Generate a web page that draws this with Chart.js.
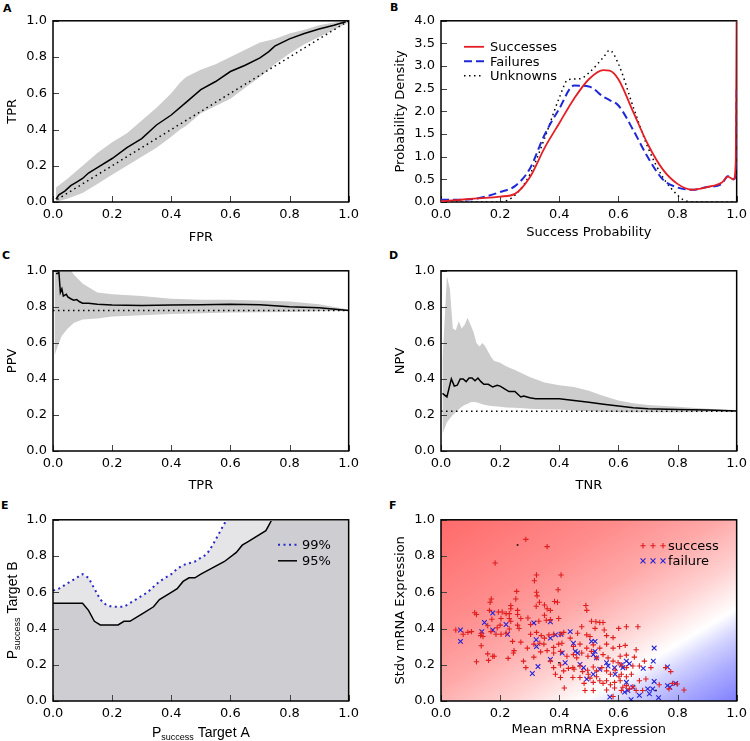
<!DOCTYPE html>
<html>
<head>
<meta charset="utf-8">
<script src="https://cdn.jsdelivr.net/npm/chart.js@4.4.0/dist/chart.umd.min.js"></script>
<style>
body { margin: 0; background: #fff; width: 750px; height: 741px; position: relative; overflow: hidden; font-family: 'DejaVu Sans', sans-serif; }
canvas { position: absolute; }
.lab { position: absolute; font-weight: bold; font-size: 11px; line-height: 11px; }
</style>
</head>
<body>
<div class="lab" style="left:3px;top:3px">A</div>
<div class="lab" style="left:390px;top:2px">B</div>
<div class="lab" style="left:2px;top:250px">C</div>
<div class="lab" style="left:389px;top:250px">D</div>
<div class="lab" style="left:1px;top:500px">E</div>
<div class="lab" style="left:389px;top:500px">F</div>
<canvas id="cA"></canvas>
<canvas id="cB"></canvas>
<canvas id="cC"></canvas>
<canvas id="cD"></canvas>
<canvas id="cE"></canvas>
<canvas id="cF"></canvas>
<script>
// ---------- A: ROC ----------
const rocX    = [0.01, 0.02, 0.04, 0.06, 0.08, 0.1, 0.12, 0.15, 0.2, 0.25, 0.3, 0.35, 0.4, 0.45, 0.5, 0.55, 0.6, 0.65, 0.7, 0.73, 0.75, 0.8, 0.85, 0.9, 0.95, 0.99];
const rocMean = [0.015, 0.04, 0.06, 0.09, 0.11, 0.13, 0.16, 0.19, 0.24, 0.3, 0.35, 0.425, 0.48, 0.55, 0.62, 0.665, 0.72, 0.755, 0.795, 0.83, 0.86, 0.9, 0.93, 0.955, 0.975, 0.995];
const rocBandX = [0.01, 0.05, 0.1, 0.15, 0.2, 0.25, 0.3, 0.35, 0.4, 0.43, 0.45, 0.5, 0.55, 0.6, 0.65, 0.7, 0.75, 0.8, 0.85, 0.9, 0.95, 1.0];
const rocHi   = [0.08, 0.13, 0.2, 0.27, 0.33, 0.38, 0.45, 0.52, 0.6, 0.66, 0.69, 0.73, 0.76, 0.8, 0.84, 0.88, 0.9, 0.93, 0.95, 0.975, 0.99, 1.0];
const rocLo   = [0.0, 0.02, 0.05, 0.1, 0.15, 0.2, 0.25, 0.3, 0.36, 0.4, 0.42, 0.49, 0.53, 0.57, 0.63, 0.69, 0.76, 0.82, 0.87, 0.91, 0.95, 0.99];
const chanceLine = [[0, 0], [1, 1]];

// ---------- B: densities ----------
const densX    = [0.0, 0.05, 0.1, 0.15, 0.2, 0.25, 0.3, 0.35, 0.4, 0.45, 0.5, 0.55, 0.57, 0.6, 0.65, 0.7, 0.75, 0.8, 0.85, 0.9, 0.95, 0.97, 0.99, 0.997, 1.0];
const successD = [0.02, 0.04, 0.07, 0.09, 0.12, 0.18, 0.54, 1.19, 1.74, 2.28, 2.71, 2.91, 2.9, 2.71, 1.99, 1.27, 0.72, 0.4, 0.27, 0.33, 0.43, 0.56, 0.5, 0.9, 4.0];
const failureD = [0.05, 0.05, 0.06, 0.12, 0.22, 0.35, 0.73, 1.48, 2.06, 2.57, 2.55, 2.32, 2.25, 2.13, 1.59, 0.98, 0.5, 0.32, 0.27, 0.33, 0.4, 0.57, 0.5, 0.6, 2.5];
const unknownX = [0.0, 0.2, 0.25, 0.3, 0.35, 0.4, 0.43, 0.47, 0.5, 0.55, 0.57, 0.6, 0.65, 0.7, 0.75, 0.8, 0.82, 0.85, 1.0];
const unknownD = [0.0, 0.0, 0.15, 0.6, 1.4, 2.3, 2.7, 2.72, 2.85, 3.2, 3.35, 3.05, 2.1, 1.2, 0.55, 0.15, 0.05, 0.0, 0.0];

// ---------- C: PPV vs TPR ----------
const ppvX    = [0.01, 0.015, 0.02, 0.025, 0.03, 0.035, 0.04, 0.045, 0.05, 0.06, 0.07, 0.08, 0.09, 0.1, 0.12, 0.15, 0.2, 0.3, 0.4, 0.5, 0.6, 0.7, 0.8, 0.9, 1.0];
const ppvMean = [0.985, 0.985, 0.99, 0.88, 0.9, 0.86, 0.865, 0.87, 0.855, 0.845, 0.837, 0.84, 0.828, 0.82, 0.82, 0.815, 0.81, 0.808, 0.81, 0.812, 0.815, 0.812, 0.8, 0.795, 0.78];
const ppvBandX = [0.005, 0.02, 0.03, 0.05, 0.07, 0.1, 0.15, 0.2, 0.3, 0.4, 0.5, 0.6, 0.7, 0.8, 0.9, 1.0];
const ppvHi   = [1.2, 1.15, 1.1, 1.03, 0.98, 0.93, 0.88, 0.87, 0.86, 0.845, 0.84, 0.84, 0.835, 0.83, 0.815, 0.785];
const ppvLo   = [0.53, 0.6, 0.64, 0.68, 0.71, 0.73, 0.735, 0.746, 0.754, 0.76, 0.765, 0.768, 0.77, 0.772, 0.775, 0.777];
const ppvBase = [[0, 0.78], [1, 0.78]];

// ---------- D: NPV vs TNR ----------
const npvX    = [0.005, 0.02, 0.035, 0.045, 0.055, 0.065, 0.075, 0.085, 0.095, 0.105, 0.115, 0.125, 0.135, 0.145, 0.16, 0.175, 0.19, 0.2, 0.215, 0.23, 0.25, 0.27, 0.28, 0.3, 0.32, 0.35, 0.4, 0.45, 0.5, 0.55, 0.6, 0.65, 0.7, 0.8, 0.9, 1.0];
const npvMean = [0.32, 0.3, 0.4, 0.36, 0.365, 0.4, 0.4, 0.385, 0.405, 0.405, 0.39, 0.405, 0.385, 0.37, 0.37, 0.355, 0.365, 0.36, 0.345, 0.33, 0.33, 0.3, 0.305, 0.295, 0.29, 0.29, 0.29, 0.28, 0.27, 0.26, 0.25, 0.24, 0.235, 0.23, 0.228, 0.222];
const npvBandX = [0.005, 0.02, 0.03, 0.04, 0.05, 0.06, 0.07, 0.08, 0.09, 0.1, 0.11, 0.12, 0.13, 0.14, 0.15, 0.16, 0.17, 0.18, 0.2, 0.22, 0.25, 0.3, 0.35, 0.4, 0.45, 0.5, 0.55, 0.6, 0.65, 0.7, 0.8, 0.9, 1.0];
const npvHi   = [0.5, 0.97, 0.9, 0.68, 0.67, 0.72, 0.68, 0.7, 0.74, 0.7, 0.66, 0.6, 0.58, 0.6, 0.58, 0.55, 0.52, 0.5, 0.49, 0.47, 0.45, 0.41, 0.38, 0.365, 0.355, 0.335, 0.305, 0.28, 0.265, 0.255, 0.245, 0.235, 0.228];
const npvLo   = [0.095, 0.16, 0.18, 0.2, 0.215, 0.23, 0.245, 0.255, 0.262, 0.27, 0.272, 0.27, 0.265, 0.26, 0.255, 0.252, 0.25, 0.248, 0.245, 0.242, 0.24, 0.235, 0.232, 0.23, 0.225, 0.22, 0.218, 0.215, 0.215, 0.215, 0.215, 0.217, 0.218];
const npvBase = [[0, 0.22], [1, 0.22]];

// ---------- E: significance contours ----------
const c95X = [0.0, 0.1, 0.12, 0.14, 0.16, 0.22, 0.24, 0.26, 0.3, 0.34, 0.36, 0.4, 0.42, 0.44, 0.46, 0.48, 0.5, 0.58, 0.62, 0.64, 0.66, 0.72, 0.74, 1.0];
const c95Y = [0.54, 0.54, 0.5, 0.44, 0.42, 0.42, 0.44, 0.44, 0.48, 0.52, 0.56, 0.6, 0.62, 0.66, 0.68, 0.68, 0.7, 0.77, 0.82, 0.86, 0.88, 0.94, 1.0, 1.0];
const c99X = [0.0, 0.02, 0.04, 0.06, 0.08, 0.1, 0.12, 0.14, 0.16, 0.18, 0.2, 0.24, 0.26, 0.28, 0.3, 0.32, 0.34, 0.36, 0.38, 0.4, 0.42, 0.44, 0.46, 0.48, 0.5, 0.52, 0.54, 0.56, 0.58, 0.59, 1.0];
const c99Y = [0.61, 0.62, 0.64, 0.66, 0.68, 0.7, 0.68, 0.62, 0.56, 0.53, 0.52, 0.52, 0.54, 0.56, 0.58, 0.6, 0.63, 0.66, 0.68, 0.7, 0.73, 0.75, 0.76, 0.77, 0.79, 0.81, 0.86, 0.92, 0.98, 1.0, 1.0];

// ---------- F: expression scatter ----------
const successX = [0.287,0.359,0.183,0.323,0.316,0.406,0.396,0.323,0.325,0.256,0.17,0.166,0.253,0.333,0.384,0.394,0.49,0.35,0.236,0.322,0.359,0.493,0.236,0.164,0.194,0.207,0.22,0.231,0.259,0.37,0.172,0.114,0.12,0.259,0.294,0.356,0.37,0.509,0.524,0.537,0.548,0.203,0.231,0.236,0.27,0.331,0.398,0.35,0.2,0.158,0.19,0.259,0.303,0.264,0.231,0.186,0.203,0.22,0.169,0.05,0.075,0.091,0.103,0.136,0.134,0.142,0.303,0.323,0.339,0.35,0.365,0.381,0.404,0.415,0.437,0.462,0.476,0.493,0.504,0.521,0.552,0.56,0.582,0.601,0.627,0.666,0.136,0.242,0.27,0.292,0.314,0.334,0.348,0.381,0.398,0.409,0.448,0.47,0.493,0.515,0.537,0.56,0.582,0.604,0.623,0.247,0.245,0.158,0.175,0.161,0.18,0.12,0.227,0.279,0.314,0.337,0.359,0.381,0.404,0.426,0.448,0.459,0.476,0.497,0.509,0.526,0.548,0.565,0.582,0.606,0.627,0.654,0.66,0.599,0.61,0.627,0.649,0.671,0.688,0.71,0.76,0.777,0.287,0.37,0.381,0.404,0.415,0.431,0.45,0.47,0.479,0.496,0.515,0.526,0.544,0.56,0.573,0.589,0.61,0.627,0.644,0.671,0.693,0.738,0.783,0.822,0.498,0.504,0.515,0.526,0.537,0.548,0.56,0.573,0.587,0.602,0.606,0.615,0.627,0.637,0.649,0.66,0.446,0.47,0.484,0.487,0.417,0.387,0.404,0.446,0.515,0.56,0.587,0.61,0.682,0.771,0.799,0.582];
const successY = [0.892,0.852,0.762,0.695,0.664,0.695,0.614,0.6,0.58,0.605,0.563,0.545,0.563,0.545,0.549,0.545,0.527,0.53,0.527,0.523,0.509,0.5,0.509,0.5,0.491,0.491,0.482,0.482,0.5,0.5,0.451,0.487,0.477,0.477,0.458,0.446,0.449,0.44,0.437,0.433,0.433,0.455,0.455,0.44,0.455,0.44,0.455,0.473,0.419,0.415,0.404,0.419,0.422,0.4,0.397,0.368,0.368,0.374,0.383,0.392,0.368,0.379,0.383,0.374,0.361,0.356,0.368,0.379,0.361,0.347,0.365,0.368,0.368,0.379,0.347,0.374,0.41,0.365,0.356,0.401,0.392,0.361,0.35,0.401,0.41,0.41,0.305,0.329,0.325,0.292,0.314,0.319,0.314,0.296,0.314,0.319,0.301,0.314,0.292,0.31,0.292,0.314,0.292,0.301,0.307,0.278,0.265,0.26,0.247,0.224,0.247,0.217,0.235,0.22,0.242,0.271,0.278,0.265,0.274,0.247,0.256,0.238,0.265,0.247,0.274,0.238,0.256,0.238,0.22,0.247,0.253,0.242,0.283,0.211,0.199,0.184,0.193,0.193,0.22,0.184,0.184,0.162,0.184,0.22,0.184,0.199,0.166,0.18,0.175,0.193,0.162,0.17,0.188,0.166,0.184,0.166,0.148,0.17,0.148,0.134,0.148,0.112,0.121,0.09,0.097,0.061,0.148,0.126,0.103,0.134,0.112,0.097,0.112,0.09,0.103,0.134,0.112,0.076,0.085,0.067,0.079,0.058,0.184,0.13,0.097,0.058,0.072,0.148,0.13,0.13,0.058,0.061,0.072,0.058,0.058,0.067,0.094,0.025];
const failureX = [0.066,0.066,0.147,0.138,0.175,0.175,0.22,0.225,0.314,0.37,0.322,0.323,0.309,0.328,0.37,0.37,0.387,0.406,0.41,0.42,0.437,0.448,0.454,0.462,0.47,0.482,0.493,0.509,0.521,0.515,0.521,0.526,0.537,0.515,0.56,0.565,0.571,0.587,0.61,0.615,0.627,0.637,0.589,0.627,0.632,0.649,0.643,0.671,0.684,0.699,0.705,0.721,0.718,0.721,0.716,0.736,0.766,0.766,0.774,0.794,0.621];
const failureY = [0.392,0.329,0.433,0.383,0.392,0.486,0.422,0.368,0.431,0.437,0.338,0.301,0.152,0.19,0.347,0.229,0.365,0.368,0.265,0.211,0.383,0.319,0.274,0.265,0.202,0.184,0.121,0.329,0.329,0.256,0.274,0.238,0.175,0.148,0.211,0.193,0.022,0.184,0.199,0.184,0.22,0.206,0.148,0.103,0.058,0.076,0.007,0.031,0.18,0.067,0.04,0.292,0.22,0.108,0.067,0.018,0.188,0.085,0.076,0.097,0.049];
const otherX = [0.259, 0.399, 0.727];
const otherY = [0.861, 0.211, 0.058];
const boundary = [[0.48, 0.0], [1.0, 0.51]];

// ---------- helpers ----------
Chart.defaults.font.family = "'DejaVu Sans', sans-serif";
Chart.defaults.font.size = 13;
Chart.defaults.color = '#000';

const xy = (xs, ys) => xs.map((x, i) => ({ x: x, y: ys[i] }));
const pairs = p => p.map(q => ({ x: q[0], y: q[1] }));

function place(id, L, T, R, B) {
  const c = document.getElementById(id);
  c.width = R - L + 62;
  c.height = B - T + 55;
  c.style.left = (L - 50) + 'px';
  c.style.top = (T - 10) + 'px';
  return c;
}

function axes(o) {
  const tick = { color: '#000', autoSkip: false, maxRotation: 0, callback: v => v.toFixed(1) };
  return {
    x: {
      type: 'linear', min: 0, max: 1,
      ticks: { ...tick, stepSize: 0.2, padding: 5 },
      grid: { display: false, drawTicks: false }, border: { display: false },
      title: { display: !!o.xTitle, text: o.xTitle, color: '#000', padding: { top: 0, bottom: o.xPad } },
      afterFit: s => { s.height = 45; }
    },
    y: {
      type: 'linear', min: 0, max: o.yMax || 1,
      ticks: { ...tick, stepSize: o.yStep || 0.2, padding: 6 },
      grid: { display: false, drawTicks: false }, border: { display: false },
      title: { display: !!o.yTitle, text: o.yTitle, color: '#000', padding: { top: 2, bottom: 0 } },
      afterFit: s => { s.width = 50; }
    }
  };
}

// frame and inward ticks; "under" draws it before the datasets
function frame(under) {
  const draw = chart => {
    const { ctx, chartArea: a, scales: { x, y } } = chart;
    ctx.save();
    ctx.strokeStyle = '#444';
    ctx.lineWidth = 1;
    ctx.beginPath();
    x.ticks.forEach(t => {
      const px = Math.round(x.getPixelForValue(t.value)) + 0.5;
      ctx.moveTo(px, a.bottom); ctx.lineTo(px, a.bottom - 6);
    });
    y.ticks.forEach(t => {
      const py = Math.round(y.getPixelForValue(t.value)) + 0.5;
      ctx.moveTo(a.left, py); ctx.lineTo(a.left + 6, py);
    });
    ctx.stroke();
    ctx.strokeStyle = '#000';
    ctx.lineWidth = 1.5;
    ctx.strokeRect(a.left, a.top, a.right - a.left, a.bottom - a.top);
    ctx.restore();
  };
  return under ? { id: 'frame', beforeDatasetsDraw: draw } : { id: 'frame', afterDatasetsDraw: draw };
}

function drawMarker(ctx, style, x, y, r) {
  ctx.beginPath();
  if (style === 'cross') {
    ctx.moveTo(x - r, y); ctx.lineTo(x + r, y);
    ctx.moveTo(x, y - r); ctx.lineTo(x, y + r);
  } else {
    const d = r * 0.75;
    ctx.moveTo(x - d, y - d); ctx.lineTo(x + d, y + d);
    ctx.moveTo(x - d, y + d); ctx.lineTo(x + d, y - d);
  }
  ctx.stroke();
}

function inLegend(opts) {
  return {
    id: 'inLegend',
    afterDraw(chart) {
      const { ctx, chartArea: a } = chart;
      ctx.save();
      ctx.font = "13px 'DejaVu Sans'";
      ctx.textBaseline = 'middle';
      opts.items.forEach((di, i) => {
        const ds = chart.data.datasets[di];
        const yy = a.top + opts.y + i * opts.row;
        const x0 = a.left + opts.x;
        ctx.strokeStyle = ds.borderColor;
        ctx.lineWidth = ds.borderWidth;
        if (opts.kind === 'line') {
          ctx.setLineDash(ds.borderDash || []);
          ctx.beginPath(); ctx.moveTo(x0, yy); ctx.lineTo(x0 + opts.w, yy); ctx.stroke();
          ctx.setLineDash([]);
        } else {
          [0, 10, 20].forEach(dx => drawMarker(ctx, ds.pointStyle, x0 + dx, yy, ds.pointRadius));
        }
        ctx.fillStyle = '#000';
        ctx.fillText(ds.label, x0 + opts.w + opts.gap, yy + 1);
      });
      ctx.restore();
    }
  };
}

const bandColor = 'rgb(204,204,204)';
function lineDs(data, color, width, dash, extra) {
  return Object.assign({ data: data, borderColor: color, borderWidth: width, borderDash: dash || [], pointRadius: 0, fill: false, tension: 0 }, extra || {});
}
function bandDs(xs, lo, hi) {
  return [
    { data: xy(xs, lo), borderWidth: 0, borderColor: 'rgba(0,0,0,0)', pointRadius: 0, fill: false },
    { data: xy(xs, hi), borderWidth: 0, borderColor: 'rgba(0,0,0,0)', pointRadius: 0, fill: '-1', backgroundColor: bandColor }
  ];
}
function commonOpts(scales) {
  return {
    responsive: false, animation: false, events: [],
    layout: { padding: { left: 0, top: 10, right: 12, bottom: 0 } },
    plugins: { legend: { display: false }, tooltip: { enabled: false } },
    scales: scales
  };
}

// ---------- A ----------
new Chart(place('cA', 53, 17, 352, 202), {
  type: 'line',
  data: { datasets: [
    lineDs(xy(rocX, rocMean), '#000', 1.5),
    lineDs(pairs(chanceLine), '#000', 1.5, [1.5, 3.5]),
    ...bandDs(rocBandX, rocLo, rocHi)
  ] },
  options: commonOpts(axes({ xTitle: 'FPR', yTitle: 'TPR', xPad: 2 })),
  plugins: [frame(false)]
});

// ---------- B ----------
new Chart(place('cB', 441, 17, 740, 202), {
  type: 'line',
  data: { datasets: [
    lineDs(xy(densX, successD), 'rgb(228,30,36)', 1.8, [], { label: 'Successes', cubicInterpolationMode: 'monotone' }),
    lineDs(xy(densX, failureD), 'rgb(30,40,215)', 2, [8, 4], { label: 'Failures', cubicInterpolationMode: 'monotone' }),
    lineDs(xy(unknownX, unknownD), '#000', 1.5, [1.5, 3.5], { label: 'Unknowns', cubicInterpolationMode: 'monotone' })
  ] },
  options: commonOpts(axes({ xTitle: 'Success Probability', yTitle: 'Probability Density', xPad: 7, yMax: 4, yStep: 0.5 })),
  plugins: [frame(true), inLegend({ items: [0, 1, 2], kind: 'line', x: 23, y: 26, row: 14.5, w: 20, gap: 6 })]
});

// ---------- C ----------
new Chart(place('cC', 53, 267, 352, 451), {
  type: 'line',
  data: { datasets: [
    lineDs(xy(ppvX, ppvMean), '#000', 1.5),
    lineDs(pairs(ppvBase), '#000', 1.5, [1.5, 3.5]),
    ...bandDs(ppvBandX, ppvLo, ppvHi)
  ] },
  options: commonOpts(axes({ xTitle: 'TPR', yTitle: 'PPV', xPad: 3 })),
  plugins: [frame(false)]
});

// ---------- D ----------
new Chart(place('cD', 441, 267, 740, 451), {
  type: 'line',
  data: { datasets: [
    lineDs(xy(npvX, npvMean), '#000', 1.5),
    lineDs(pairs(npvBase), '#000', 1.5, [1.5, 3.5]),
    ...bandDs(npvBandX, npvLo, npvHi)
  ] },
  options: commonOpts(axes({ xTitle: 'TNR', yTitle: 'NPV', xPad: 3 })),
  plugins: [frame(false)]
});

// ---------- E ----------
const subTitles = {
  id: 'subTitles',
  afterDraw(chart) {
    const { ctx, chartArea: a } = chart;
    function label(cx, cy, rot, tail) {
      const big = "14px 'Liberation Sans', Arial, sans-serif";
      const small = "9px 'Liberation Sans', Arial, sans-serif";
      ctx.save();
      ctx.translate(cx, cy);
      ctx.rotate(rot);
      ctx.font = big; const wP = ctx.measureText('P').width; const wT = ctx.measureText(tail).width;
      ctx.font = small; const wS = ctx.measureText('success').width;
      let x = -(wP + wS + wT) / 2;
      ctx.fillStyle = '#000';
      ctx.textBaseline = 'alphabetic';
      ctx.font = big; ctx.fillText('P', x, 0); x += wP;
      ctx.font = small; ctx.fillText('success', x, 3); x += wS;
      ctx.font = big; ctx.fillText(tail, x, 0);
      ctx.restore();
    }
    label((a.left + a.right) / 2, a.bottom + 36, 0, ' Target A');
    label(a.left - 36, (a.top + a.bottom) / 2, -Math.PI / 2, ' Target B');
  }
};
// lines that run along the top edge are clipped just inside it and hidden by the frame
const topClip = { left: 0, right: 0, bottom: 0, top: -1.2 };
new Chart(place('cE', 53, 516, 352, 701), {
  type: 'line',
  data: { datasets: [
    lineDs(xy(c95X, c95Y), '#000', 1.5, [], { label: '95%', fill: 'origin', backgroundColor: 'rgb(205,205,210)', clip: topClip }),
    lineDs(xy(c99X, c99Y), 'rgb(40,40,200)', 2, [2, 3.5], { label: '99%', fill: 'origin', backgroundColor: 'rgb(229,229,232)', clip: topClip })
  ] },
  options: commonOpts(axes({})),
  plugins: [frame(false), subTitles, inLegend({ items: [1, 0], kind: 'line', x: 225, y: 25, row: 16, w: 19, gap: 5 })]
});

// ---------- F ----------
const gradPlugin = {
  id: 'grad',
  beforeDatasetsDraw(chart) {
    const { ctx, chartArea: a, scales: { x, y } } = chart;
    const p0 = [x.getPixelForValue(boundary[0][0]), y.getPixelForValue(boundary[0][1])];
    const p1 = [x.getPixelForValue(boundary[1][0]), y.getPixelForValue(boundary[1][1])];
    const dx = p1[0] - p0[0], dy = p1[1] - p0[1], len = Math.hypot(dx, dy);
    const n = [-dy / len, dx / len];
    const dTL = (a.left - p0[0]) * n[0] + (a.top - p0[1]) * n[1];
    const dBR = (a.right - p0[0]) * n[0] + (a.bottom - p0[1]) * n[1];
    const g = ctx.createLinearGradient(p0[0] + dTL * n[0], p0[1] + dTL * n[1], p0[0] + dBR * n[0], p0[1] + dBR * n[1]);
    const stops = [[-240, 'rgb(255,106,106)'], [-135, 'rgb(255,140,140)'], [-85, 'rgb(255,168,168)'], [-40, 'rgb(255,208,208)'], [0, 'rgb(255,255,255)'], [20, 'rgb(212,212,255)'], [45, 'rgb(172,172,255)'], [85, 'rgb(128,128,255)']];
    stops.forEach(s => g.addColorStop(Math.min(1, Math.max(0, (s[0] - dTL) / (dBR - dTL))), s[1]));
    ctx.save();
    ctx.fillStyle = g;
    ctx.fillRect(a.left, a.top, a.right - a.left, a.bottom - a.top);
    ctx.restore();
  }
};
new Chart(place('cF', 441, 516, 740, 701), {
  type: 'scatter',
  data: { datasets: [
    { label: 'success', data: xy(successX, successY), pointStyle: 'cross', pointRadius: 2.7, borderWidth: 1.1, borderColor: 'rgb(225,30,30)', backgroundColor: 'rgb(225,30,30)' },
    { label: 'failure', data: xy(failureX, failureY), pointStyle: 'crossRot', pointRadius: 3.3, borderWidth: 1.1, borderColor: 'rgb(35,35,215)', backgroundColor: 'rgb(35,35,215)' },
    { label: 'other', data: xy(otherX, otherY), pointStyle: 'rect', pointRadius: 1.2, borderWidth: 0, borderColor: '#000', backgroundColor: '#000' }
  ] },
  options: commonOpts(axes({ xTitle: 'Mean mRNA Expression', yTitle: 'Stdv mRNA Expression', xPad: 9 })),
  plugins: [gradPlugin, frame(false), inLegend({ items: [0, 1], kind: 'points', x: 202, y: 26, row: 15, w: 20, gap: 5 })]
});
</script>
</body>
</html>
